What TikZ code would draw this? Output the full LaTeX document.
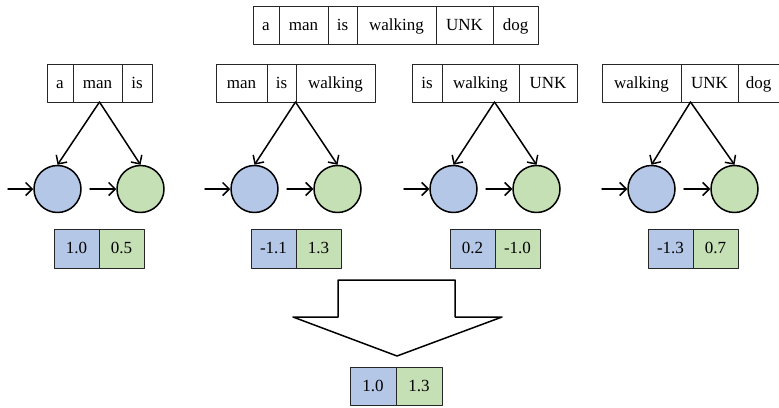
\documentclass[tikz,border=0pt]{standalone}
\usepackage{fontspec}
\setmainfont{Liberation Serif}
\usetikzlibrary{positioning,calc,arrows.meta}

\definecolor{nodeblue}{HTML}{B4C7E7}
\definecolor{nodegreen}{HTML}{C5E0B4}

\begin{document}
\begin{tikzpicture}[x=1pt,y=-1pt,>={Straight Barb[length=6.5pt,width=13pt]},line cap=round,line join=round,
    cell/.style={draw=black!85,line width=0.9pt,minimum height=38pt,inner sep=0pt,outer sep=0pt,
      text height=12pt,text depth=1.5pt,font=\fontsize{17}{19}\selectfont},
    unit/.style={circle,draw,line width=1.5pt,minimum size=47pt,inner sep=0pt},
    link/.style={->,line width=1.5pt}]
  \useasboundingbox (0,0) rectangle (779,407);

  % full sentence
  \node[cell,minimum width=26pt,anchor=west] (s-1) at (253,25) {a};
  \foreach \lab/\cw [count=\i from 2, evaluate=\i as \j using int(\i-1)] in
      {man/49, is/29, walking/79, UNK/57, dog/45}{
    \node[cell,minimum width=\cw pt,right=0pt of s-\j] (s-\i) {\lab};
  }

  % windows, units and scores
  \foreach \n/\xl/\la/\wa/\lb/\wb/\lc/\wc/\xc/\va/\vb in
      {1/47/a/26/man/49/is/30/99/1.0/0.5,
       2/216/man/51/is/29/walking/79/296/-1.1/1.3,
       3/412/is/30/walking/77/UNK/58/495/0.2/-1.0,
       4/602/walking/79/UNK/57/dog/41/693/-1.3/0.7}{
    \node[cell,minimum width=\wa pt,anchor=west] (w\n-a) at (\xl,83) {\la};
    \node[cell,minimum width=\wb pt,right=0pt of w\n-a] (w\n-b) {\lb};
    \node[cell,minimum width=\wc pt,right=0pt of w\n-b] (w\n-c) {\lc};
    \coordinate (top\n) at ($(w\n-a.south west)!0.5!(w\n-c.south east)$);

    \node[unit,fill=nodeblue] (b\n) at (\xc-41.5,189) {};
    \node[unit,fill=nodegreen] (g\n) at (\xc+41.5,189) {};
    \coordinate (in\n) at (\xc-91,189);
    \coordinate (mid\n) at (\xc-9,189);

    \draw[link] (top\n) -- (b\n.north);
    \draw[link] (top\n) -- (g\n.north);
    \draw[link] (in\n) -- (b\n);
    \draw[link] (mid\n) -- (g\n);

    \node[cell,fill=nodeblue,minimum width=45pt,minimum height=39pt,anchor=east] (v\n-a) at (\xc,248.5) {\va};
    \node[cell,fill=nodegreen,minimum width=45pt,minimum height=39pt,right=0pt of v\n-a] (v\n-b) {\vb};
  }

  % merge arrow
  \draw[line width=1.5pt,fill=white] (338,280) -- (455,280) -- (455,317) -- (502,317)
    -- (397,356) -- (293,317) -- (338,317) -- cycle;

  % result
  \node[cell,fill=nodeblue,minimum width=46pt,anchor=east] (r-a) at (396,386) {1.0};
  \node[cell,fill=nodegreen,minimum width=46pt,right=0pt of r-a] (r-b) {1.3};
\end{tikzpicture}
\end{document}
